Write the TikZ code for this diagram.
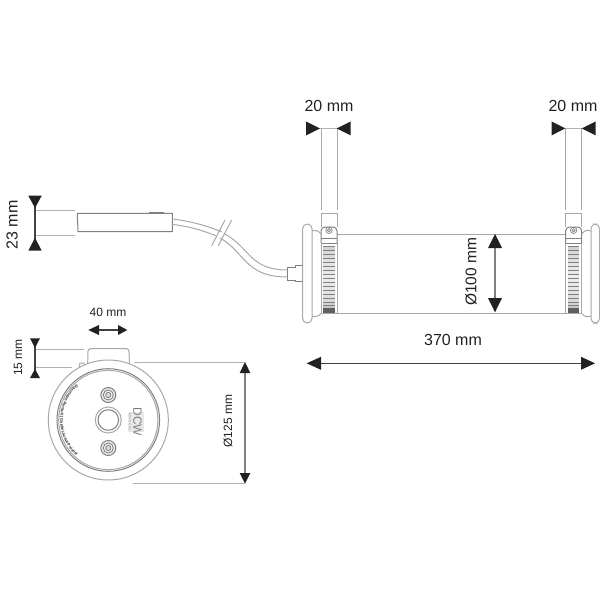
\documentclass[tikz,border=0pt]{standalone}
\usepackage{fontspec}
\setmainfont{Liberation Sans}
\usetikzlibrary{decorations.text}
\newcommand{\px}[1]{\fontsize{\dimexpr#1pt/2\relax}{\dimexpr#1pt/2\relax}\selectfont}
\newcommand{\arcfont}{\fontsize{1.95pt}{2pt}\selectfont\bfseries\color{ink}}
\definecolor{ink}{gray}{0.13}
\definecolor{lineg}{gray}{0.66}
\definecolor{lined}{gray}{0.5}
\tikzset{
  thinl/.style={draw=lineg,line width=0.5pt},
  darkl/.style={draw=lined,line width=0.5pt},
  extl/.style={draw=gray!60,line width=0.45pt},
  diml/.style={draw=ink!85,line width=0.65pt},
  tip/.style={fill=ink,draw=none},
  lab/.style={text=ink,inner sep=0pt},
}
% horizontal triangle: tip x, base x, y, half height
\newcommand{\trih}[4]{\fill[tip] (#1,#3) -- (#2,#3-#4) -- (#2,#3+#4) -- cycle;}
% vertical triangle: tip y, base y, x, half width
\newcommand{\triv}[4]{\fill[tip] (#3,#1) -- (#3-#4,#2) -- (#3+#4,#2) -- cycle;}
% lamp end clamp with pole: left x, right x
\newcommand{\clampset}[2]{
  \draw[thinl] (#1,128) -- (#1,210) (#2,128) -- (#2,210);
  \draw[thinl] (#1,227) -- (#1,213) -- (#2,213) -- (#2,227);
  \draw[darkl] (#1,243) -- (#1,230) [rounded corners=2pt] -- (#1,227) -- (#2,227) -- (#2,243);
  \draw[darkl] (#1,238) -- (#2,238);
  \draw[darkl] (#1,243) -- (#2,243);
  \draw[thinl] (#1,243) -- (#1,313.5) (#2,243) -- (#2,313.5);
  \draw[lined,line width=0.35pt] ({(#1+#2)/2},230.3) circle[radius=3.2];
  \draw[lined,fill=gray!25,line width=0.3pt] ({(#1+#2)/2},230.3) circle[radius=1.7];
  \foreach \yy/\cc in {246/35,250/30,254/28,258/24,262/20,266/20,270/18,274/15,278/15,282/18,286/20,290/22,294/26,298/30,302/35,305/45}{
    \fill[gray!\cc] (#1+2.3,\yy) rectangle (#2-2.3,\yy+3.5);
    \draw[lined,line width=0.4pt] (#1+2.3,\yy) -- (#2-2.3,\yy);
  }
  \fill[gray!75!black] (#1+2.3,308) rectangle (#2-2.3,313.5);
  \draw[thinl] (#1,313.5) -- (#2,313.5);
}
\begin{document}
\begin{tikzpicture}[x=0.5pt,y=-0.5pt]
\useasboundingbox (0,0) rectangle (600,600);

% ---- lamp, side view ----
\draw[thinl] (337,234) -- (566,234);
\draw[thinl] (337,313.4) -- (566,313.4);
\clampset{321}{337}
\clampset{565.5}{581.7}
% end caps
\draw[thinl,rounded corners=2.3pt] (302.7,224) rectangle (312,323);
\draw[thinl,rounded corners=2.3pt] (591,224) rectangle (599.5,323);
\draw[thinl] (312,231) .. controls (315,229.5) and (319,231) .. (321,234);
\draw[thinl] (312,316) .. controls (315,317.5) and (319,316) .. (321,313.5);
\draw[thinl] (581.7,234) .. controls (584,231) and (587,229) .. (591,231);
\draw[thinl] (581.7,313.5) .. controls (584,316) and (587,318) .. (591,316);
% plug
\draw[darkl] (287.3,267) -- (295,267) -- (295,265) -- (303,265);
\draw[darkl] (287.3,280.7) -- (295,280.7) -- (295,281.7) -- (303,281.7);
\draw[darkl] (287.3,267) -- (287.3,280.7);

% ---- driver box ----
\draw[darkl] (77.3,213.3) -- (172.3,213.3) -- (172.3,231.7) -- (78,231.7) -- cycle;
\draw[lined,line width=0.8pt] (149,213) -- (164,213);

% ---- cable ----
\coordinate (cu1) at (172.3,219);
\coordinate (cu2) at (221.7,232);
\coordinate (cu3) at (225,234);
\coordinate (cu4) at (287.3,270);
\coordinate (cl1) at (172.3,224.3);
\coordinate (cl2) at (215.7,235.7);
\coordinate (cl3) at (220,238);
\coordinate (cl4) at (287.3,277);
\draw[thinl] (cu1) .. controls (190,221) and (208,226) .. (cu2);
\draw[thinl] (cl1) .. controls (190,226.7) and (203,230.5) .. (cl2);
\draw[thinl] (cu3) .. controls (250,248) and (250,270) .. (cu4);
\draw[thinl] (cl3) .. controls (245,252) and (245,277) .. (cl4);
\draw[thinl] (211.7,245.7) -- (225,220);
\draw[thinl] (218.3,245.7) -- (231.7,220);

% ---- end view ----
\draw[thinl,fill=white] (87.7,364) -- (87.9,352) [rounded corners=1.5pt] -- (88,348.5) -- (129,348.5) -- (129.4,364);
\draw[thinl] (79.3,367.5) -- (80,363) -- (84,363) -- (84.6,365.5);
\draw[thinl,fill=white] (108.3,420) circle[radius=60];
\draw[darkl] (108.3,420) circle[radius=51.3];
\draw[thinl] (108.3,420) circle[radius=49.6];
\begin{scope}[shift={(108.3,420)},x=0.5pt,y=0.5pt]
\path[decorate,decoration={text along path,text format delimiters={<}{>},text align=center,
  text={<\arcfont>Dominique Perrault | Gaëlle Lauriot-Prévost}}]
  (126:48) arc[start angle=126,end angle=234,radius=48];
\end{scope}
\foreach \cy in {395,448}{
  \draw[lined,fill=gray!15,line width=0.5pt] (108.3,\cy) circle[radius=7.5];
  \draw[lined,fill=white,line width=0.45pt] (108.3,\cy) circle[radius=5];
  \draw[lined,fill=gray!30,line width=0.4pt] (108.3,\cy) circle[radius=2.7];
}
\draw[thinl] (108.3,420) circle[radius=13];
\draw[darkl] (108.3,420) circle[radius=10.3];
\fill[gray!18] (128.3,411.7) rectangle (144,431.7);
\node[rotate=-90,text=lined,inner sep=0pt] (logo) at (137.5,421.7) {\px{12}DCW};
\node[rotate=-90,text=lined,inner sep=0pt] (logosub) at (130.3,421.7) {\px{3.2}é d i t i o n s};

% ---- dimensions ----
% 20 mm left
\draw[extl] (320,128.5) -- (337,128.5);
\trih{320}{306}{128.4}{7}
\trih{336.7}{350.7}{128.4}{7}
\node[lab] (d20a) at (329,106) {\px{16}20 mm};
% 20 mm right
\draw[extl] (565,128.5) -- (582,128.5);
\trih{565.3}{551.5}{128.4}{7}
\trih{581.7}{595.7}{128.4}{7}
\node[lab] (d20b) at (573,106) {\px{16}20 mm};
% 23 mm
\draw[extl] (36,210) -- (75,210);
\draw[extl] (36,235.7) -- (75,235.7);
\draw[diml] (35,205) -- (35,240);
\triv{208}{195.7}{35}{6.7}
\triv{237.7}{250.7}{35}{6.7}
\node[lab,rotate=90] (d23) at (12,225) {\px{16}23 mm};
% 15 mm
\draw[extl] (36,349) -- (84,349);
\draw[extl] (36,367.7) -- (72,367.7);
\draw[diml] (35,345) -- (35,372);
\triv{348}{338.3}{35}{5}
\triv{369}{378}{35}{5}
\node[lab,rotate=90] (d15) at (18,357.5) {\px{12}15 mm};
% 40 mm
\draw[diml] (95,330) -- (120,330);
\trih{88.3}{99}{330}{5}
\trih{127.3}{118}{330}{5}
\node[lab] (d40) at (108,312.5) {\px{12}40 mm};
% 125
\draw[extl] (134,362.5) -- (245,362.5);
\draw[extl] (133,483.5) -- (245,483.5);
\draw[diml,draw=gray] (245,368) -- (245,478);
\triv{362}{373}{245}{5.3}
\triv{483.5}{473}{245}{5.3}
\node[lab,rotate=90] (d125) at (228,421) {\px{12}Ø125 mm};
% 100
\draw[diml,draw=gray] (495,244) -- (495,302);
\triv{234}{248}{495}{7}
\triv{312.3}{298}{495}{7}
\node[lab,rotate=90] (d100) at (471,271.7) {\px{15.5}Ø100 mm};
% 370
\draw[diml] (315,363.3) -- (587,363.3);
\trih{306.7}{321}{363.3}{6.5}
\trih{595}{581}{363.3}{6.5}
\node[lab] (d370) at (453,340) {\px{16}370 mm};
\end{tikzpicture}
\end{document}
